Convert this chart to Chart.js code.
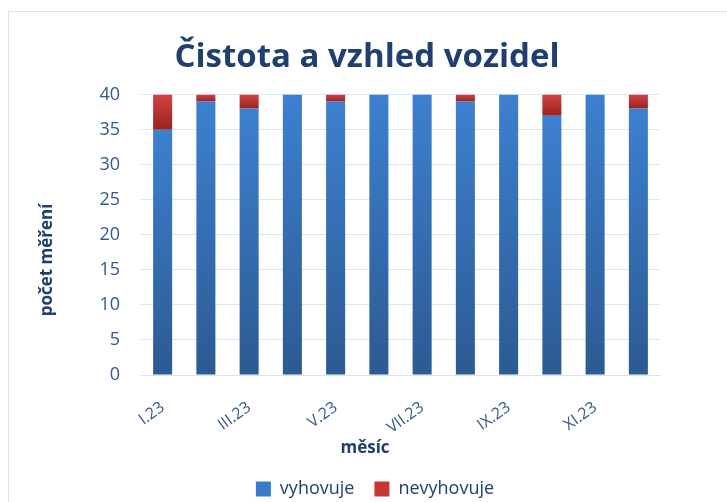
<!DOCTYPE html>
<html><head><meta charset="utf-8">
<script src="https://cdn.jsdelivr.net/npm/chart.js@4"></script>
<style>
html,body{margin:0;padding:0;background:#fff;}
#wrap{position:absolute;left:0;top:0;width:727px;height:502px;}
#frame{position:absolute;left:8px;top:11px;width:730px;height:500px;border:1px solid #d9e3f0;box-sizing:border-box;}
</style></head>
<body>
<div id="frame"></div>
<div id="wrap"><canvas id="c" width="727" height="502"></canvas></div>
<script>
const categories = ["I.23","II.23","III.23","IV.23","V.23","VI.23","VII.23","VIII.23","IX.23","X.23","XI.23","XII.23"];
const vyhovuje   = [35,39,38,40,39,40,40,39,40,37,40,38];
const nevyhovuje = [5,1,2,0,1,0,0,1,0,3,0,2];
const yTicks = [0,5,10,15,20,25,30,35,40];
const xTitle = 'měsíc';
const yTitle = 'počet měření';

function segGrad(top, bottom){
  return function(ctx){
    const ch = ctx.chart; const y = ch.scales && ch.scales.y;
    if(!y || ctx.dataIndex === undefined) return top;
    const i = ctx.dataIndex;
    let lo, hi;
    if(ctx.datasetIndex === 0){ lo = 0; hi = vyhovuje[i]; }
    else { lo = vyhovuje[i]; hi = vyhovuje[i] + nevyhovuje[i]; }
    const y0 = y.getPixelForValue(lo), y1 = y.getPixelForValue(hi);
    if(!isFinite(y0) || !isFinite(y1) || y0 === y1) return top;
    const g = ch.ctx.createLinearGradient(0, y0, 0, y1);
    g.addColorStop(0, bottom); g.addColorStop(1, top);
    return g;
  };
}
const tickColor = '#34578e';
const titleColor = '#1f3f6e';
const PLOT_BOTTOM = 375, LEGEND_CENTER = 484, LEGEND_SHIFT_X = 8, CANVAS_H = 502;

const axisTitles = {
  id:'axisTitles',
  afterLayout(chart){
    const L = chart.legend;
    if(L){
      const shift = LEGEND_CENTER - (L.top + L.height/2);
      L.top += shift; L.bottom += shift;
      L.left += LEGEND_SHIFT_X; L.right += LEGEND_SHIFT_X;
    }
  },
  afterDraw(chart){
    const c = chart.ctx;
    c.save();
    c.fillStyle = titleColor;
    c.font = 'bold 17px "Open Sans"';
    c.textAlign = 'center';
    c.textBaseline = 'alphabetic';
    c.fillText(xTitle, 365, 453);
    c.translate(52, 260);
    c.rotate(-Math.PI/2);
    c.fillText(yTitle, 0, 0);
    c.restore();
  }
};

new Chart(document.getElementById('c'), {
  type: 'bar',
  data: {
    labels: categories,
    datasets: [
      {label:'vyhovuje', data: vyhovuje, backgroundColor: segGrad('#3d80d0','#2c5a92'), borderWidth:0, categoryPercentage:1, barPercentage:0.44, yAxisID:'y'},
      {label:'nevyhovuje', data: nevyhovuje, backgroundColor: segGrad('#d44240','#982321'), borderWidth:0, categoryPercentage:1, barPercentage:0.44, yAxisID:'y'}
    ]
  },
  plugins:[axisTitles],
  options: {
    responsive:false, animation:false,
    layout:{padding:{left:34,right:27,top:38,bottom:0}},
    plugins:{
      title:{display:true, text:'Čistota a vzhled vozidel', color:titleColor,
        font:{family:'Open Sans', size:33, weight:'bold'}, padding:{top:0,bottom:17}},
      legend:{position:'bottom', labels:{color:'#1f3f6e', boxWidth:15, boxHeight:15, padding:20,
        font:{family:'Open Sans', size:18},
        generateLabels(chart){
          const cols=['#3a7bcc','#c93434'];
          return chart.data.datasets.map((d,i)=>({text:d.label, fillStyle:cols[i], strokeStyle:cols[i], lineWidth:0, datasetIndex:i, fontColor:'#1f3f6e'}));
        }}},
      tooltip:{enabled:false}
    },
    scales:{
      x:{stacked:true, grid:{display:false}, border:{display:true,color:'#d9e3f0'},
        afterFit(s){
          const L = s.chart.legend;
          const lh = (L && L.height) ? L.height : 62;
          s.height = CANVAS_H - lh - PLOT_BOTTOM;
        },
        ticks:{color:tickColor, maxRotation:36, minRotation:36, autoSkip:false, padding:15,
          font:{family:'Open Sans', size:16},
          callback:function(v,i){ return i%2===0 ? categories[i] : ''; }}},
      y:{stacked:true, min:0, max:40, position:'left',
        afterBuildTicks(ax){ ax.ticks = yTicks.map(v=>({value:v})); },
        afterFit(s){ s.width = 107; },
        grid:{color:'#dce6f2', lineWidth:1, drawTicks:false}, border:{display:false},
        ticks:{color:tickColor, padding:21, font:{family:'Open Sans', size:18}}},
      yR:{position:'right', display:true, afterFit(s){ s.width = 40; },
        grid:{display:false, drawOnChartArea:false}, border:{display:false}, ticks:{display:false}}
    }
  }
});
</script>
</body></html>
